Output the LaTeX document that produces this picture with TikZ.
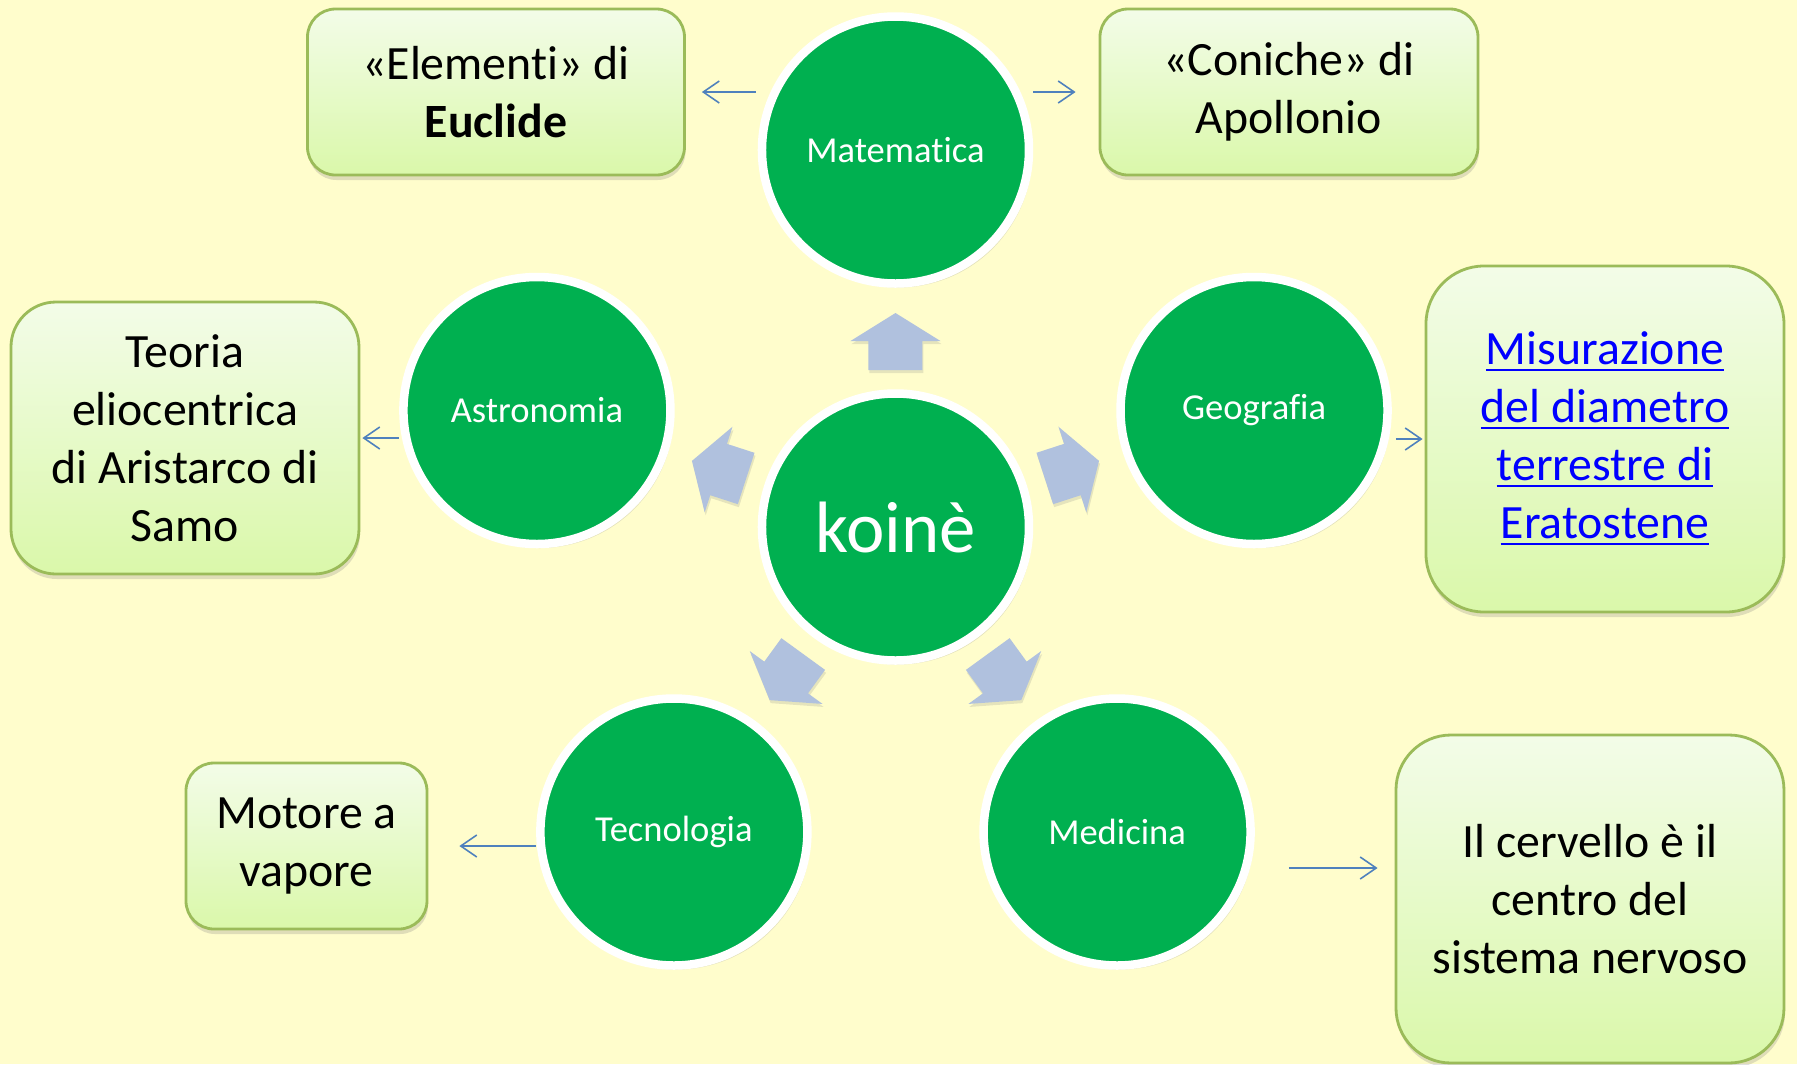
\documentclass[tikz,border=0pt]{standalone}
\usepackage{fontspec}
\setmainfont{Carlito}[Ligatures={NoCommon,NoRequired,NoContextual,NoRare}]
\usetikzlibrary{arrows.meta, shadows}

\definecolor{bgyellow}{RGB}{255,253,204}
\definecolor{kgreen}{RGB}{0,176,80}
\definecolor{boxedge}{RGB}{155,187,89}
\definecolor{boxtop}{RGB}{243,252,232}
\definecolor{boxbottom}{RGB}{218,248,170}
\definecolor{linkblue}{RGB}{79,129,189}
\definecolor{blockblue}{RGB}{176,193,222}
\definecolor{hyperblue}{RGB}{0,0,255}

\begin{document}
\begin{tikzpicture}[
  topic/.style={circle, draw=white, line width=0.085cm, fill=kgreen, text=white,
    minimum size=2.67cm, inner sep=0pt, font=\fontsize{10.4}{12.5}\selectfont,
    drop shadow={opacity=0.22, shadow xshift=0.03cm, shadow yshift=-0.04cm}},
  box/.style={draw=boxedge, line width=0.8pt, top color=boxtop, bottom color=boxbottom,
    align=center, inner sep=0pt, font=\fontsize{13.6}{16.5}\selectfont,
    drop shadow={opacity=0.25, shadow xshift=0.01cm, shadow yshift=-0.05cm}},
  link/.style={draw=linkblue, line width=0.45pt, -{Straight Barb[length=0.16cm, width=0.22cm]}},
  blockarrow/.style={fill=blockblue,
    drop shadow={opacity=0.2, shadow xshift=0.01cm, shadow yshift=-0.03cm}}
]

% Background
\fill[bgyellow] (-8.955,-5.37) rectangle (9.015,5.27);
\useasboundingbox (-8.955,-5.37) rectangle (9.015,5.27);

% Block arrows from the centre
\foreach \a in {90, 162, 18, 234, 306}
  \fill[blockarrow, rotate=\a] (1.57,-0.27) -- (1.86,-0.27) -- (1.86,-0.45) -- (2.14,0)
    -- (1.86,0.45) -- (1.86,0.27) -- (1.57,0.27) -- cycle;

% Centre and topics
\node[topic, font=\fontsize{20.7}{24}\selectfont] (koine) at (0,0) {koinè};
\foreach \a/\name/\lab in {90/mat/Matematica, 162/astro/Astronomia, 18/geo/Geografia,
    234/tec/Tecnologia, 306/med/Medicina}
  \node[topic] (\name) at ({3.77*cos(\a)}, {3.77*sin(\a)}) {\lab};

% Boxes
\node[box, minimum width=3.77cm, minimum height=1.66cm, rounded corners=0.28cm]
  (elem) at (-3.995,4.35) {«Elementi» di\\\textbf{Euclide}};
\node[box, minimum width=3.78cm, minimum height=1.66cm, rounded corners=0.28cm]
  (con) at (3.935,4.35) {«Coniche» di\\Apollonio};
\node[box, minimum width=3.48cm, minimum height=2.72cm, rounded corners=0.45cm]
  (teo) at (-7.105,0.89) {Teoria\\eliocentrica\\di Aristarco di\\Samo};
\node[box, text=hyperblue, minimum width=3.58cm, minimum height=3.46cm, rounded corners=0.58cm]
  (mis) at (7.095,0.88) {\underline{Misurazione}\\\underline{del diametro}\\\underline{terrestre di}\\\underline{Eratostene}};
\node[box, minimum width=2.41cm, minimum height=1.66cm, rounded corners=0.28cm]
  (mot) at (-5.89,-3.19) {Motore a\\vapore};
\node[box, minimum width=3.88cm, minimum height=3.28cm, rounded corners=0.55cm]
  (cer) at (6.945,-3.72) {Il cervello è il\\centro del\\sistema nervoso};
\coordinate (cerin) at ([yshift=0.31cm]cer.west);

% Links
\draw[link, shorten <=0.02cm, shorten >=0.16cm] (mat.west |- elem.east) -- (elem.east);
\draw[link, shorten >=0.23cm] (mat.east |- con.west) -- (con.west);
\draw[link, shorten >=0.02cm] (astro.west |- teo.east) -- (teo.east);
\draw[link, shorten <=0.04cm, shorten >=0.02cm] (geo.east |- mis.west) -- (mis.west);
\draw[link, shorten >=0.31cm] (tec.west |- mot.east) -- (mot.east);
\draw[link, shorten <=0.34cm, shorten >=0.17cm] (med.east |- cerin) -- (cerin);

\end{tikzpicture}
\end{document}
